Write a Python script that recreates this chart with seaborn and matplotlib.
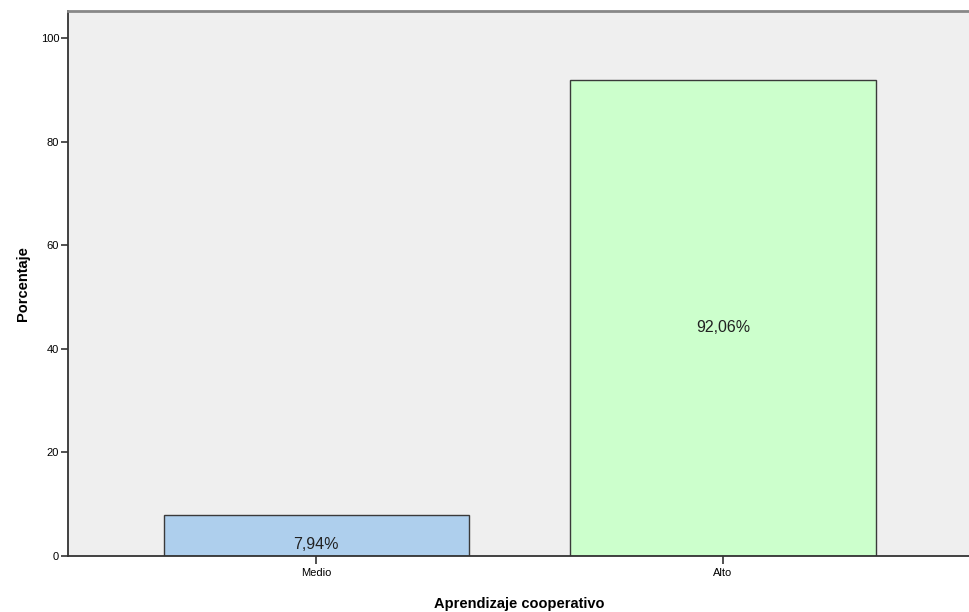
import matplotlib
matplotlib.use("Agg")
import matplotlib.pyplot as plt
import seaborn as sns
import pandas as pd

categories = ["Medio", "Alto"]
percentages = [7.94, 92.06]
bar_labels = ["7,94%", "92,06%"]
bar_colors = ["#AECFED", "#CCFFCC"]

sns.set_style("white")
plt.rcParams["font.family"] = ["Liberation Sans Narrow", "Liberation Sans", "DejaVu Sans"]

df = pd.DataFrame({"cat": categories, "pct": percentages})

fig = plt.figure(figsize=(9.7, 6.12), dpi=100)
ax = fig.add_axes([67.5 / 970, 1 - 556 / 612, 1 - 67.5 / 970, (556 - 11) / 612])
ax.set_facecolor("#EFEFEF")

sns.barplot(data=df, x="cat", y="pct", hue="cat", palette=bar_colors, saturation=1,
            width=0.75, edgecolor="#3A3A3A", linewidth=1.0, legend=False, ax=ax)

# value labels, roughly mid-bar like the SPSS output
for i, (v, lab) in enumerate(zip(percentages, bar_labels)):
    ax.text(i, v / 2 - 1.8, lab, ha="center", va="center", fontsize=11.5, color="#222222")

ax.set_xlim(-0.611, 1.607)
ax.set_ylim(0, 105.3)
ax.set_yticks([0, 20, 40, 60, 80, 100])
ax.tick_params(axis="both", direction="out", length=5, width=1.2, color="#333333",
               labelsize=8, pad=1, labelcolor="black", bottom=True, left=True)
ax.tick_params(axis="x", length=6, pad=3)

ax.set_xlabel("Aprendizaje cooperativo", fontsize=10.5, fontweight="bold",
              labelpad=13, color="black")
ax.set_ylabel("Porcentaje", fontsize=10.5, fontweight="bold", labelpad=8, color="black")

for side in ["left", "bottom"]:
    ax.spines[side].set_color("#333333")
    ax.spines[side].set_linewidth(1.3)
ax.spines["top"].set_color("#888888")
ax.spines["top"].set_linewidth(2)
ax.spines["right"].set_visible(False)

fig.savefig("out.png", dpi=100)
